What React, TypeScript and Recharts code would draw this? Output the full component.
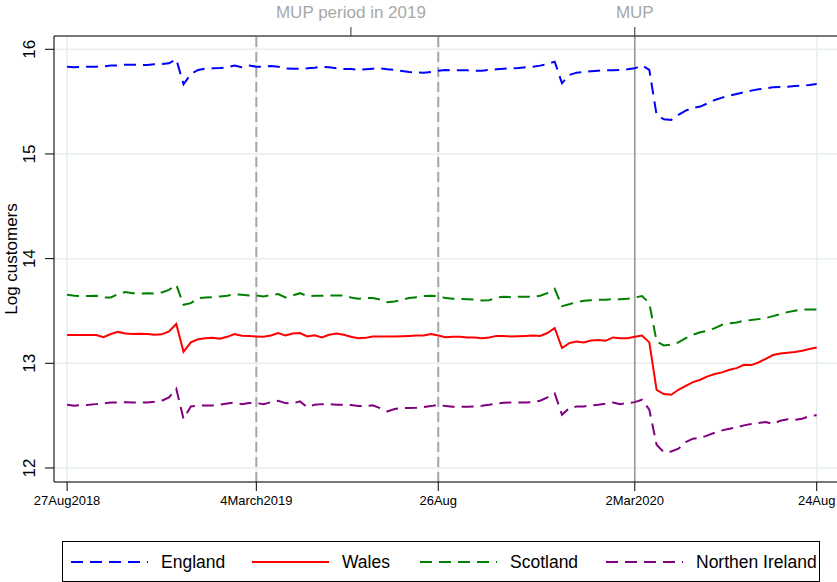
import React from "react";
import { LineChart, Line, XAxis, YAxis, CartesianGrid, ReferenceLine } from "recharts";

// weekly series, 2018w35 (27Aug2018) .. 2020w34 (24Aug2020)
const england = [
  15.834, 15.828, 15.831, 15.834, 15.834, 15.837, 15.844, 15.844, 15.853, 15.853,
  15.85, 15.85, 15.856, 15.859, 15.866, 15.905, 15.666, 15.764, 15.803, 15.815,
  15.818, 15.821, 15.828, 15.844, 15.828, 15.844, 15.834, 15.834, 15.84, 15.834,
  15.818, 15.815, 15.815, 15.818, 15.824, 15.834, 15.828, 15.818, 15.812, 15.812,
  15.803, 15.809, 15.815, 15.818, 15.809, 15.803, 15.793, 15.783, 15.78, 15.777,
  15.783, 15.796, 15.803, 15.799, 15.799, 15.799, 15.796, 15.796, 15.803, 15.809,
  15.815, 15.818, 15.821, 15.828, 15.834, 15.844, 15.859, 15.882, 15.675, 15.755,
  15.777, 15.783, 15.79, 15.796, 15.799, 15.799, 15.803, 15.809, 15.818, 15.847,
  15.803, 15.373, 15.331, 15.325, 15.373, 15.414, 15.44, 15.453, 15.484, 15.516,
  15.538, 15.557, 15.573, 15.589, 15.605, 15.618, 15.627, 15.637, 15.64, 15.643,
  15.65, 15.653, 15.659, 15.669,
];
const wales = [
  13.27, 13.27, 13.27, 13.27, 13.27, 13.25, 13.28, 13.3, 13.285, 13.28,
  13.283, 13.28, 13.273, 13.277, 13.304, 13.375, 13.11, 13.2, 13.23, 13.24,
  13.243, 13.234, 13.253, 13.28, 13.263, 13.26, 13.256, 13.253, 13.265, 13.289,
  13.265, 13.285, 13.289, 13.256, 13.268, 13.247, 13.273, 13.285, 13.273, 13.253,
  13.24, 13.243, 13.256, 13.256, 13.256, 13.256, 13.259, 13.262, 13.265, 13.265,
  13.28, 13.265, 13.25, 13.253, 13.253, 13.247, 13.247, 13.24, 13.247, 13.262,
  13.262, 13.256, 13.259, 13.262, 13.265, 13.262, 13.289, 13.337, 13.146, 13.193,
  13.209, 13.2, 13.218, 13.222, 13.215, 13.247, 13.24, 13.24, 13.253, 13.265,
  13.2, 12.747, 12.706, 12.7, 12.747, 12.785, 12.82, 12.843, 12.875, 12.897,
  12.913, 12.938, 12.954, 12.986, 12.983, 13.008, 13.043, 13.079, 13.094, 13.1,
  13.107, 13.12, 13.136, 13.15,
];
const scotland = [
  13.654, 13.645, 13.642, 13.642, 13.645, 13.629, 13.629, 13.661, 13.68, 13.67,
  13.667, 13.67, 13.667, 13.677, 13.702, 13.75, 13.559, 13.575, 13.623, 13.629,
  13.632, 13.639, 13.645, 13.661, 13.654, 13.648, 13.648, 13.639, 13.651, 13.661,
  13.629, 13.648, 13.67, 13.643, 13.645, 13.645, 13.648, 13.648, 13.648, 13.629,
  13.616, 13.623, 13.623, 13.61, 13.584, 13.591, 13.607, 13.623, 13.632, 13.642,
  13.645, 13.642, 13.623, 13.616, 13.616, 13.613, 13.61, 13.6, 13.603, 13.629,
  13.635, 13.632, 13.635, 13.635, 13.635, 13.645, 13.67, 13.712, 13.546, 13.565,
  13.584, 13.597, 13.603, 13.607, 13.607, 13.613, 13.613, 13.616, 13.629, 13.642,
  13.575, 13.209, 13.171, 13.178, 13.2, 13.241, 13.273, 13.296, 13.312, 13.336,
  13.368, 13.381, 13.39, 13.406, 13.413, 13.422, 13.432, 13.451, 13.47, 13.489,
  13.502, 13.515, 13.515, 13.515,
];
const nireland = [
  12.604, 12.594, 12.601, 12.604, 12.61, 12.617, 12.626, 12.626, 12.629, 12.626,
  12.626, 12.626, 12.633, 12.642, 12.674, 12.757, 12.468, 12.588, 12.594, 12.598,
  12.598, 12.604, 12.617, 12.626, 12.61, 12.62, 12.62, 12.61, 12.629, 12.642,
  12.62, 12.617, 12.636, 12.58, 12.604, 12.61, 12.61, 12.604, 12.604, 12.601,
  12.591, 12.591, 12.598, 12.572, 12.541, 12.563, 12.572, 12.572, 12.575, 12.582,
  12.591, 12.604, 12.591, 12.585, 12.585, 12.585, 12.588, 12.594, 12.604, 12.617,
  12.623, 12.626, 12.626, 12.626, 12.629, 12.642, 12.674, 12.713, 12.509, 12.572,
  12.588, 12.588, 12.598, 12.604, 12.614, 12.626, 12.61, 12.62, 12.629, 12.652,
  12.557, 12.222, 12.149, 12.158, 12.184, 12.248, 12.28, 12.286, 12.312, 12.337,
  12.359, 12.375, 12.388, 12.407, 12.42, 12.43, 12.439, 12.42, 12.452, 12.465,
  12.461, 12.471, 12.496, 12.503,
];

const tickWeeks = [0, 26, 51, 78, 103];
const tickLabels = ["27Aug2018", "4March2019", "26Aug", "2Mar2020", "24Aug"];
const topWeeks = [39, 78];
const topLabels = ["MUP period in 2019", "MUP"];
const yTicks = [12, 13, 14, 15, 16];

const series = [
  { key: "england", name: "England", color: "#0000ff", dash: "12 7" },
  { key: "wales", name: "Wales", color: "#ff0000", dash: undefined },
  { key: "scotland", name: "Scotland", color: "#008000", dash: "12 7" },
  { key: "nireland", name: "Northen Ireland", color: "#800080", dash: "12 7" },
];

const data = england.map((v, i) => ({
  w: i,
  england: v,
  wales: wales[i],
  scotland: scotland[i],
  nireland: nireland[i],
}));

const FONT = "'Liberation Sans', Arial, Helvetica, sans-serif";

// legend layout (sample line start, text start)
const legendPos = [
  { x1: 71, tx: 161 },
  { x1: 252, tx: 342 },
  { x1: 420, tx: 510 },
  { x1: 606, tx: 696 },
];

export default function App() {
  return (
    <div style={{ position: "absolute", left: 0, top: 0, width: 837, height: 582, overflow: "hidden", background: "#fff" }}>
      <LineChart width={845} height={582} data={data} margin={{ top: 0, right: 5, bottom: 70, left: 0 }}>
        <CartesianGrid stroke="#e6eef1" strokeWidth={1.5} />
        <XAxis
          dataKey="w"
          type="number"
          domain={[-1.8, 106.2]}
          ticks={tickWeeks}
          allowDataOverflow
          height={30}
          tickSize={9}
          stroke="#000"
          tickLine={{ stroke: "#000" }}
          tick={(p: any) => {
            const i = tickWeeks.indexOf(p.payload.value);
            return (
              <text x={p.x} y={505} textAnchor="middle" fontSize={13} fontFamily={FONT} fill="#000">
                {tickLabels[i]}
              </text>
            );
          }}
        />
        <XAxis
          xAxisId="top"
          orientation="top"
          dataKey="w"
          type="number"
          domain={[-1.8, 106.2]}
          ticks={topWeeks}
          allowDataOverflow
          height={36}
          tickSize={9}
          stroke="#000"
          tickLine={{ stroke: "#333" }}
          tick={(p: any) => {
            const i = topWeeks.indexOf(p.payload.value);
            return (
              <text x={p.x} y={18} textAnchor="middle" fontSize={17} fontFamily={FONT} fill="#a8a8a8">
                {topLabels[i]}
              </text>
            );
          }}
        />
        <YAxis
          type="number"
          domain={[11.866, 16.127]}
          ticks={yTicks}
          allowDataOverflow
          width={54}
          tickSize={9}
          stroke="#000"
          tickLine={{ stroke: "#000" }}
          tick={(p: any) => (
            <text
              x={35}
              y={p.y}
              transform={`rotate(-90, 35, ${p.y})`}
              textAnchor="middle"
              fontSize={17}
              fontFamily={FONT}
              fill="#000"
            >
              {p.payload.value}
            </text>
          )}
        />
        <ReferenceLine x={26} stroke="#a6a6a6" strokeWidth={2} strokeDasharray="10 5" />
        <ReferenceLine x={51} stroke="#a6a6a6" strokeWidth={2} strokeDasharray="10 5" />
        <ReferenceLine x={78} stroke="#999999" strokeWidth={1.6} />
        {series.map((s) => (
          <Line
            key={s.key}
            dataKey={s.key}
            type="linear"
            stroke={s.color}
            strokeWidth={2}
            strokeDasharray={s.dash}
            dot={false}
            activeDot={false}
            isAnimationActive={false}
          />
        ))}
      </LineChart>
      <svg width={837} height={582} style={{ position: "absolute", left: 0, top: 0, pointerEvents: "none" }}>
        <text
          x={17}
          y={259}
          transform="rotate(-90, 17, 259)"
          textAnchor="middle"
          fontSize={17}
          fontFamily={FONT}
          fill="#000"
        >
          Log customers
        </text>
        <rect x={62.5} y={541.5} width={757} height={40} fill="#fff" stroke="#000" strokeWidth={1} />
        {series.map((s, i) => (
          <g key={s.key}>
            <line
              x1={legendPos[i].x1}
              x2={legendPos[i].x1 + 77}
              y1={562}
              y2={562}
              stroke={s.color}
              strokeWidth={2}
              strokeDasharray={s.dash}
            />
            <text x={legendPos[i].tx} y={568} fontSize={17.5} fontFamily={FONT} fill="#000">
              {s.name}
            </text>
          </g>
        ))}
      </svg>
    </div>
  );
}
